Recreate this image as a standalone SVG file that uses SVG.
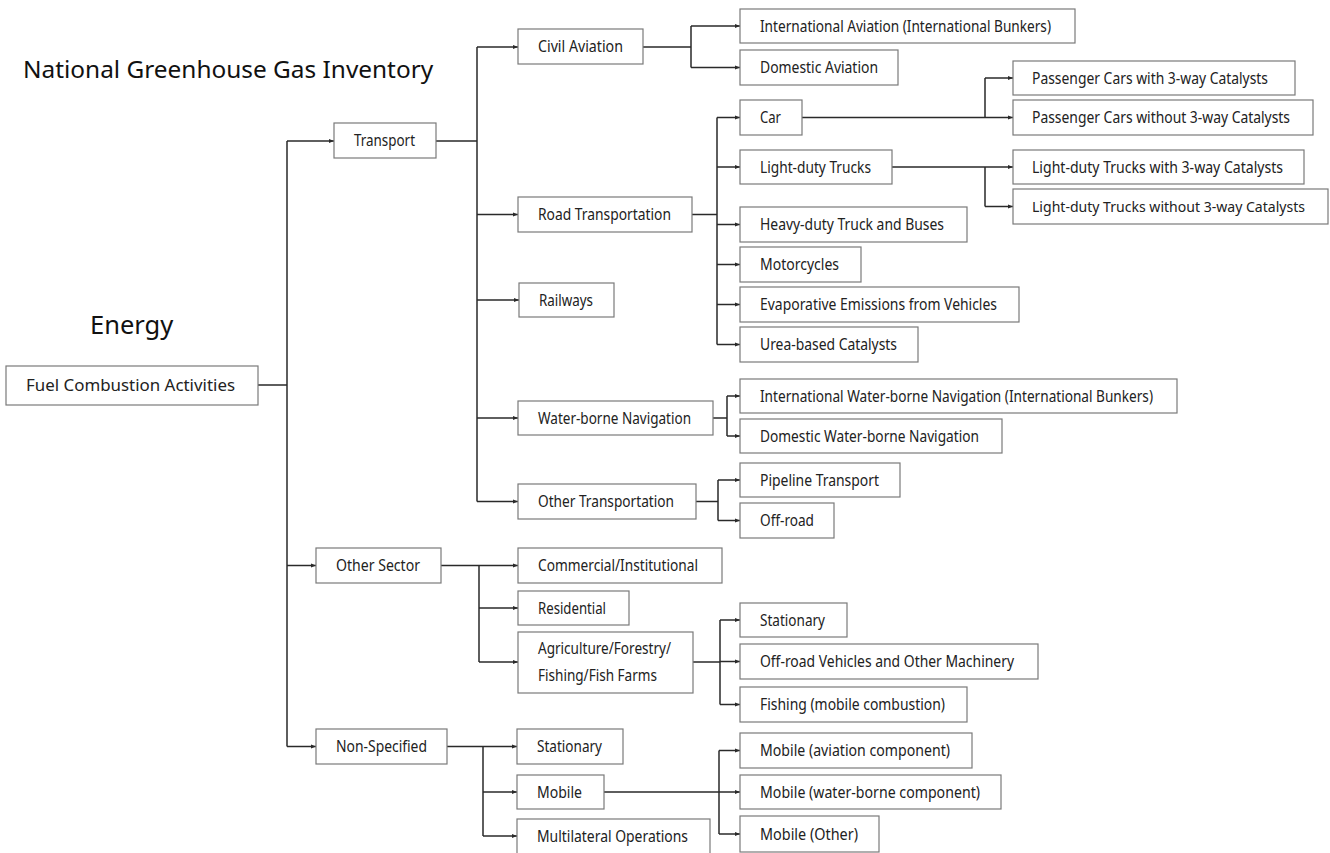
<svg xmlns="http://www.w3.org/2000/svg" width="1330" height="853" viewBox="0 0 1330 853">
<defs>
<style>
.bx rect{fill:#fff;stroke:#7a7a7a;stroke-width:1.2}
.bx text{font-family:"Noto Sans","Open Sans",sans-serif;font-size:16px;fill:#222}
.hd{font-family:"Noto Sans","Open Sans",sans-serif;fill:#111}
#connectors path{fill:none;stroke:#2a2a2a;stroke-width:1.5}
#connectors .br{marker-end:url(#ah)}
</style>
<marker id="ah" markerUnits="userSpaceOnUse" markerWidth="5" markerHeight="5" refX="5" refY="2.5" orient="auto"><path d="M0,0.5 L5,2.5 L0,4.5 z" fill="#2a2a2a"/></marker>
</defs>
<rect width="1330" height="853" fill="#fff"/>
<text class="hd" x="23" y="78" font-size="24.4">National Greenhouse Gas Inventory</text>
<text class="hd" x="90" y="334" font-size="25.5">Energy</text>

<g id="connectors">
<path d="M258,385 H287 M287,141 V746.5"/>
<path class="br" d="M287,141 H334"/>
<path class="br" d="M287,565.5 H316"/>
<path class="br" d="M287,746.5 H316"/>

<path d="M436,141 H477 M477,47 V501.5"/>
<path class="br" d="M477,47 H518"/>
<path class="br" d="M477,214.5 H518"/>
<path class="br" d="M477,300 H519"/>
<path class="br" d="M477,418 H518"/>
<path class="br" d="M477,501.5 H518"/>

<path d="M643,47 H691 M691,26 V67.5"/>
<path class="br" d="M691,26 H740"/>
<path class="br" d="M691,67.5 H740"/>

<path d="M692,214.5 H717 M717,117.5 V344.5"/>
<path class="br" d="M717,117.5 H740"/>
<path class="br" d="M717,167 H740"/>
<path class="br" d="M717,224.5 H740"/>
<path class="br" d="M717,264.5 H740"/>
<path class="br" d="M717,304.5 H740"/>
<path class="br" d="M717,344.5 H740"/>

<path d="M802,117.5 H985 M985,78 V117.5"/>
<path class="br" d="M985,78 H1013"/>
<path class="br" d="M985,117.5 H1013"/>

<path d="M892,167 H985 M985,167 V206.5"/>
<path class="br" d="M985,167 H1013"/>
<path class="br" d="M985,206.5 H1013"/>

<path d="M713,418 H727 M727,396 V436"/>
<path class="br" d="M727,396 H740"/>
<path class="br" d="M727,436 H740"/>

<path d="M696,501.5 H718 M718,480 V520.5"/>
<path class="br" d="M718,480 H740"/>
<path class="br" d="M718,520.5 H740"/>

<path d="M441,565.5 H479 M479,565.5 V662"/>
<path class="br" d="M479,565.5 H518"/>
<path class="br" d="M479,608 H518"/>
<path class="br" d="M479,662 H518"/>

<path d="M693,662 H720 M720,620 V704.5"/>
<path class="br" d="M720,620 H740"/>
<path class="br" d="M720,661.5 H740"/>
<path class="br" d="M720,704.5 H740"/>

<path d="M447,746.5 H483 M483,746.5 V836"/>
<path class="br" d="M483,746.5 H517"/>
<path class="br" d="M483,792 H517"/>
<path class="br" d="M483,836 H517"/>

<path d="M604,792 H719 M719,750.5 V834"/>
<path class="br" d="M719,750.5 H740"/>
<path class="br" d="M719,792 H740"/>
<path class="br" d="M719,834 H740"/>
</g>

<g id="fuel" class="bx"><rect x="6" y="366" width="252" height="39"/><text x="26" y="391" textLength="209" lengthAdjust="spacingAndGlyphs">Fuel Combustion Activities</text></g>
<g id="transport" class="bx"><rect x="334" y="123" width="102" height="35"/><text x="354" y="146" textLength="61" lengthAdjust="spacingAndGlyphs">Transport</text></g>
<g id="other-sector" class="bx"><rect x="316" y="548" width="125" height="35"/><text x="336" y="571" textLength="84" lengthAdjust="spacingAndGlyphs">Other Sector</text></g>
<g id="non-specified" class="bx"><rect x="316" y="729" width="131" height="35"/><text x="336" y="752" textLength="91" lengthAdjust="spacingAndGlyphs">Non-Specified</text></g>

<g id="civil-aviation" class="bx"><rect x="518" y="29" width="125" height="35"/><text x="538" y="52" textLength="85" lengthAdjust="spacingAndGlyphs">Civil Aviation</text></g>
<g id="road-transportation" class="bx"><rect x="518" y="197" width="174" height="35"/><text x="538" y="220" textLength="133" lengthAdjust="spacingAndGlyphs">Road Transportation</text></g>
<g id="railways" class="bx"><rect x="519" y="283" width="95" height="34"/><text x="539" y="305.5" textLength="54" lengthAdjust="spacingAndGlyphs">Railways</text></g>
<g id="water-borne" class="bx"><rect x="518" y="401" width="195" height="34"/><text x="538" y="423.5" textLength="153" lengthAdjust="spacingAndGlyphs">Water-borne Navigation</text></g>
<g id="other-transportation" class="bx"><rect x="518" y="484" width="178" height="35"/><text x="538" y="507" textLength="136" lengthAdjust="spacingAndGlyphs">Other Transportation</text></g>
<g id="commercial" class="bx"><rect x="518" y="548" width="204" height="35"/><text x="538" y="571" textLength="160" lengthAdjust="spacingAndGlyphs">Commercial/Institutional</text></g>
<g id="residential" class="bx"><rect x="518" y="591" width="111" height="34"/><text x="538" y="613.5" textLength="68" lengthAdjust="spacingAndGlyphs">Residential</text></g>
<g id="agriculture" class="bx"><rect x="518" y="632" width="175" height="61"/><text x="538" y="653.5" textLength="133" lengthAdjust="spacingAndGlyphs">Agriculture/Forestry/</text><text x="538" y="680.5" textLength="119" lengthAdjust="spacingAndGlyphs">Fishing/Fish Farms</text></g>
<g id="ns-stationary" class="bx"><rect x="517" y="729" width="106" height="35"/><text x="537" y="752" textLength="65" lengthAdjust="spacingAndGlyphs">Stationary</text></g>
<g id="ns-mobile" class="bx"><rect x="517" y="775" width="87" height="34"/><text x="537" y="797.5" textLength="45" lengthAdjust="spacingAndGlyphs">Mobile</text></g>
<g id="multilateral" class="bx"><rect x="517" y="819" width="193" height="40"/><text x="537" y="841.5" textLength="151" lengthAdjust="spacingAndGlyphs">Multilateral Operations</text></g>

<g id="intl-aviation" class="bx"><rect x="740" y="9" width="335" height="34"/><text x="760" y="31.5" textLength="291" lengthAdjust="spacingAndGlyphs">International Aviation (International Bunkers)</text></g>
<g id="domestic-aviation" class="bx"><rect x="740" y="50" width="158" height="35"/><text x="760" y="73" textLength="118" lengthAdjust="spacingAndGlyphs">Domestic Aviation</text></g>
<g id="car" class="bx"><rect x="740" y="100" width="62" height="35"/><text x="760" y="123" textLength="21" lengthAdjust="spacingAndGlyphs">Car</text></g>
<g id="ldt" class="bx"><rect x="740" y="150" width="152" height="34"/><text x="760" y="172.5" textLength="111" lengthAdjust="spacingAndGlyphs">Light-duty Trucks</text></g>
<g id="heavy" class="bx"><rect x="740" y="207" width="227" height="35"/><text x="760" y="230" textLength="184" lengthAdjust="spacingAndGlyphs">Heavy-duty Truck and Buses</text></g>
<g id="motorcycles" class="bx"><rect x="740" y="247" width="121" height="35"/><text x="760" y="270" textLength="79" lengthAdjust="spacingAndGlyphs">Motorcycles</text></g>
<g id="evaporative" class="bx"><rect x="740" y="287" width="279" height="35"/><text x="760" y="310" textLength="237" lengthAdjust="spacingAndGlyphs">Evaporative Emissions from Vehicles</text></g>
<g id="urea" class="bx"><rect x="740" y="327" width="178" height="35"/><text x="760" y="350" textLength="137" lengthAdjust="spacingAndGlyphs">Urea-based Catalysts</text></g>
<g id="intl-wb" class="bx"><rect x="740" y="379" width="437" height="34"/><text x="760" y="401.5" textLength="393" lengthAdjust="spacingAndGlyphs">International Water-borne Navigation (International Bunkers)</text></g>
<g id="domestic-wb" class="bx"><rect x="740" y="419" width="262" height="34"/><text x="760" y="441.5" textLength="219" lengthAdjust="spacingAndGlyphs">Domestic Water-borne Navigation</text></g>
<g id="pipeline" class="bx"><rect x="740" y="463" width="160" height="34"/><text x="760" y="485.5" textLength="119" lengthAdjust="spacingAndGlyphs">Pipeline Transport</text></g>
<g id="off-road" class="bx"><rect x="740" y="503" width="94" height="35"/><text x="760" y="526" textLength="54" lengthAdjust="spacingAndGlyphs">Off-road</text></g>
<g id="ag-stationary" class="bx"><rect x="740" y="603" width="107" height="34"/><text x="760" y="625.5" textLength="65" lengthAdjust="spacingAndGlyphs">Stationary</text></g>
<g id="off-road-vehicles" class="bx"><rect x="740" y="644" width="298" height="35"/><text x="760" y="667" textLength="254" lengthAdjust="spacingAndGlyphs">Off-road Vehicles and Other Machinery</text></g>
<g id="fishing" class="bx"><rect x="740" y="687" width="227" height="35"/><text x="760" y="710" textLength="185" lengthAdjust="spacingAndGlyphs">Fishing (mobile combustion)</text></g>
<g id="mobile-aviation" class="bx"><rect x="740" y="733" width="232" height="35"/><text x="760" y="756" textLength="190" lengthAdjust="spacingAndGlyphs">Mobile (aviation component)</text></g>
<g id="mobile-wb" class="bx"><rect x="740" y="775" width="261" height="34"/><text x="760" y="797.5" textLength="220" lengthAdjust="spacingAndGlyphs">Mobile (water-borne component)</text></g>
<g id="mobile-other" class="bx"><rect x="740" y="816" width="139" height="36"/><text x="760" y="839.5" textLength="98" lengthAdjust="spacingAndGlyphs">Mobile (Other)</text></g>

<g id="pc-with" class="bx"><rect x="1013" y="61" width="282" height="34"/><text x="1032" y="83.5" textLength="236" lengthAdjust="spacingAndGlyphs">Passenger Cars with 3-way Catalysts</text></g>
<g id="pc-without" class="bx"><rect x="1013" y="100" width="300" height="35"/><text x="1032" y="123" textLength="258" lengthAdjust="spacingAndGlyphs">Passenger Cars without 3-way Catalysts</text></g>
<g id="ldt-with" class="bx"><rect x="1013" y="150" width="291" height="34"/><text x="1032" y="172.5" textLength="251" lengthAdjust="spacingAndGlyphs">Light-duty Trucks with 3-way Catalysts</text></g>
<g id="ldt-without" class="bx"><rect x="1013" y="189" width="315" height="35"/><text x="1032" y="212" style="font-size:15px" textLength="273" lengthAdjust="spacingAndGlyphs">Light-duty Trucks without 3-way Catalysts</text></g>
</svg>
